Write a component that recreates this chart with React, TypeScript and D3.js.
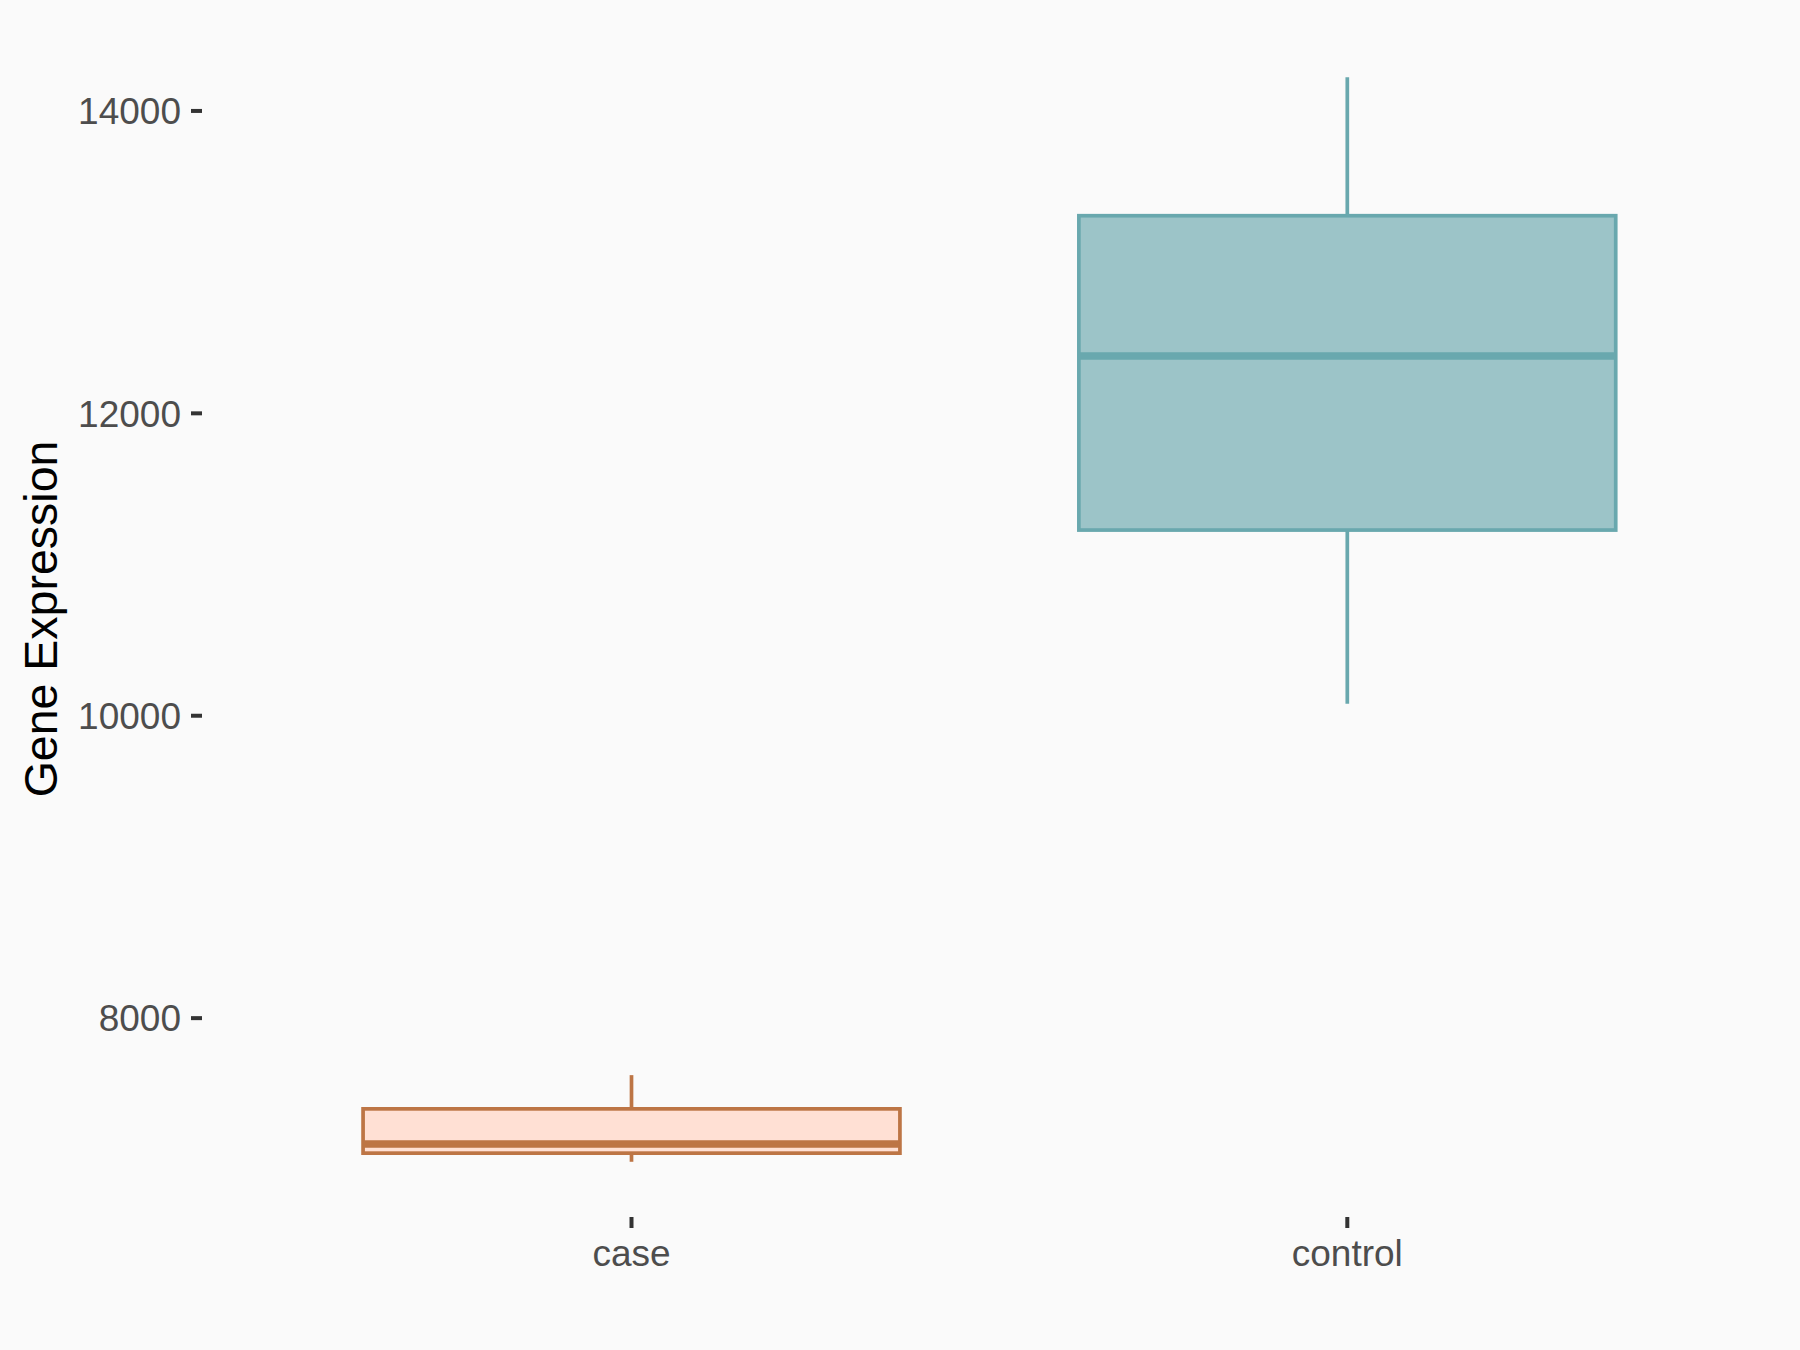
import React from "react";
import * as d3 from "d3";

// Box summaries per group: whisker low, Q1, median, Q3, whisker high
const groups = ["case", "control"];
const whiskerLow = [7050, 10079];
const q1 = [7107, 11228];
const median = [7168, 12379];
const q3 = [7400, 13307];
const whiskerHigh = [7623, 14223];
const yTicks = [8000, 10000, 12000, 14000];

const strokeColors = ["#BD7545", "#69A8AE"];
const fillColors = ["#FFE0D4", "#9CC4C8"];

const W = 1800;
const H = 1350;
const panel = { left: 202, right: 1778, top: 23, bottom: 1216 };
const font = "Arial, 'Liberation Sans', sans-serif";

export default function App() {
  const lo = d3.min(whiskerLow)!;
  const hi = d3.max(whiskerHigh)!;
  const pad = (hi - lo) * 0.05;
  const y = d3.scaleLinear().domain([lo - pad, hi + pad]).range([panel.bottom, panel.top]);
  const x = d3.scalePoint<string>().domain(groups).range([631.5, 1347.3]);
  const boxW = x.step() * 0.75;

  return (
    <svg width={W} height={H} style={{ display: "block", position: "absolute", left: 0, top: 0 }}>
      <rect x={0} y={0} width={W} height={H} fill="#FAFAFA" />
      {/* y axis ticks and labels */}
      {yTicks.map((t) => (
        <g key={t}>
          <line x1={191} x2={202} y1={y(t)} y2={y(t)} stroke="#333333" strokeWidth={4} />
          <text x={181} y={y(t)} dy="0.36em" textAnchor="end" fontFamily={font} fontSize={37} fill="#4D4D4D">
            {t}
          </text>
        </g>
      ))}
      {/* x axis ticks and labels */}
      {groups.map((g) => (
        <g key={g}>
          <line x1={x(g)!} x2={x(g)!} y1={1217} y2={1228} stroke="#333333" strokeWidth={4} />
          <text x={x(g)!} y={1266} textAnchor="middle" fontFamily={font} fontSize={37} fill="#4D4D4D">
            {g}
          </text>
        </g>
      ))}
      <text
        transform={`translate(57,619) rotate(-90)`}
        textAnchor="middle"
        fontFamily={font}
        fontSize={46.5}
        fill="#000000"
      >
        Gene Expression
      </text>
      {/* boxes */}
      {groups.map((g, i) => {
        const cx = x(g)!;
        const sc = strokeColors[i];
        return (
          <g key={g}>
            <line x1={cx} x2={cx} y1={y(whiskerHigh[i])} y2={y(q3[i])} stroke={sc} strokeWidth={3.7} />
            <line x1={cx} x2={cx} y1={y(q1[i])} y2={y(whiskerLow[i])} stroke={sc} strokeWidth={3.7} />
            <rect
              x={cx - boxW / 2}
              y={y(q3[i])}
              width={boxW}
              height={y(q1[i]) - y(q3[i])}
              fill={fillColors[i]}
              stroke={sc}
              strokeWidth={3.7}
            />
            <line
              x1={cx - boxW / 2}
              x2={cx + boxW / 2}
              y1={y(median[i])}
              y2={y(median[i])}
              stroke={sc}
              strokeWidth={7.4}
            />
          </g>
        );
      })}
    </svg>
  );
}
